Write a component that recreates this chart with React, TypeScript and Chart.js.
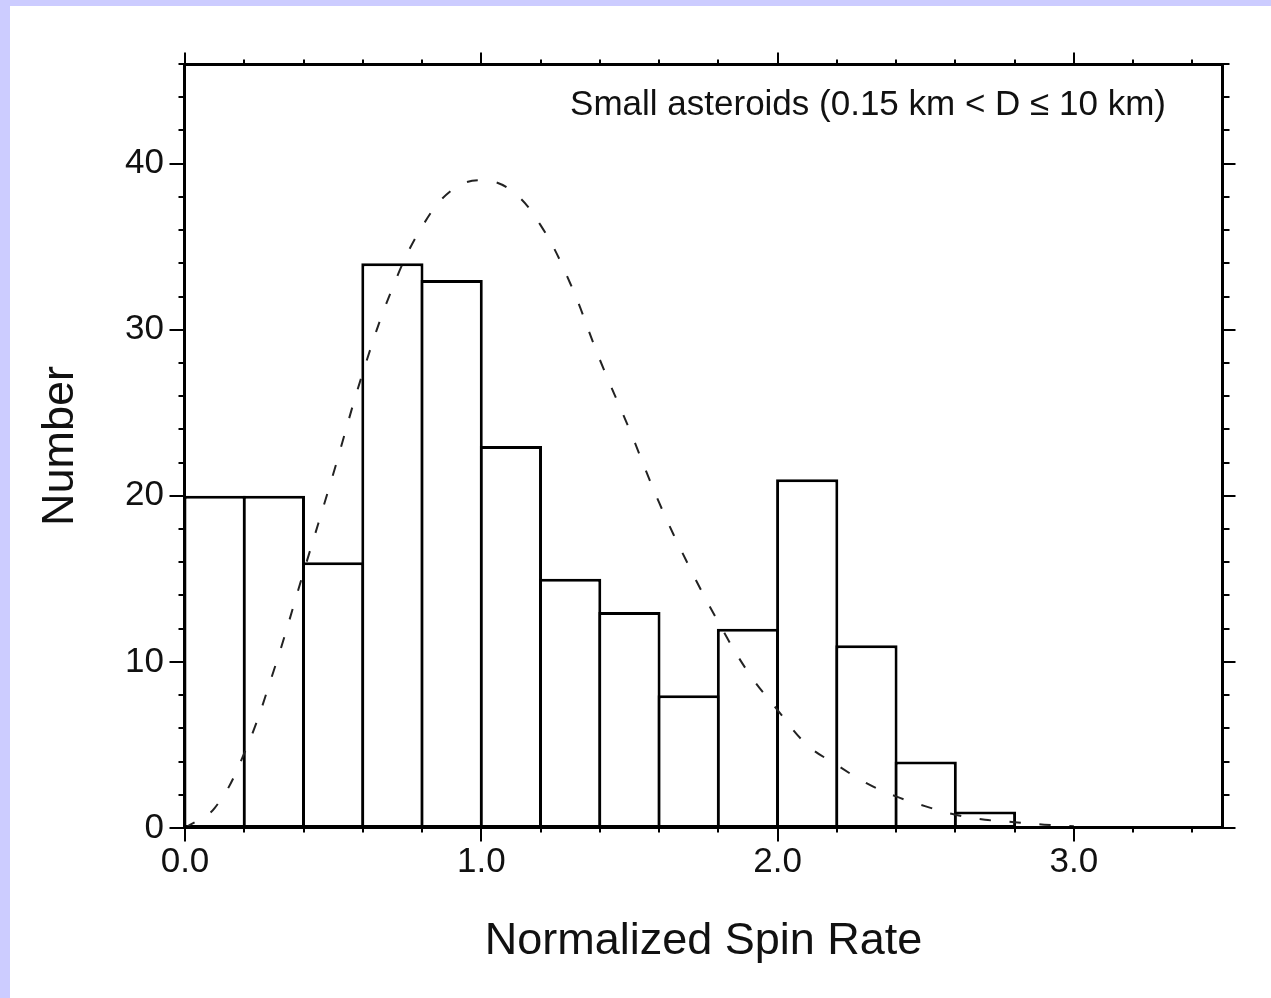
import React, { useEffect, useRef } from 'react';
import { Chart, registerables } from 'chart.js';

Chart.register(...registerables);

// ---- data ----
const BIN_CENTERS = [0.1, 0.3, 0.5, 0.7, 0.9, 1.1, 1.3, 1.5, 1.7, 1.9, 2.1, 2.3, 2.5, 2.7];
const BIN_COUNTS = [20, 20, 16, 34, 33, 23, 15, 13, 8, 12, 21, 11, 4, 1];

const CURVE_X = [0, 0.1, 0.2, 0.3, 0.4, 0.5, 0.6, 0.7, 0.8, 0.9, 1.0, 1.1, 1.2, 1.3, 1.4, 1.5, 1.6, 1.7, 1.8, 1.9, 2.0, 2.1, 2.2, 2.3, 2.4, 2.5, 2.6, 2.7, 2.8, 2.9, 3.0];
const CURVE_Y = [0, 1.2, 4.5, 9.5, 15.4, 21.3, 27.4, 32.5, 36.2, 38.4, 39.0, 38.4, 36.3, 32.8, 28.2, 24.0, 19.6, 15.8, 12.4, 9.4, 7.1, 5.0, 3.8, 2.7, 1.9, 1.3, 0.8, 0.5, 0.35, 0.2, 0.1];

const X_MAJOR = [0, 1, 2, 3];
const X_MINOR = [0, 0.2, 0.4, 0.6, 0.8, 1.0, 1.2, 1.4, 1.6, 1.8, 2.0, 2.2, 2.4, 2.6, 2.8, 3.0, 3.2, 3.4];
const Y_MAJOR = [0, 10, 20, 30, 40];
const Y_MINOR = [0, 2, 4, 6, 8, 10, 12, 14, 16, 18, 20, 22, 24, 26, 28, 30, 32, 34, 36, 38, 40, 42, 44, 46];

const X_TITLE = 'Normalized Spin Rate';
const Y_TITLE = 'Number';
const ANNOTATION = 'Small asteroids (0.15 km < D \u2264 10 km)';

const FONT = '"Liberation Sans", Arial, Helvetica, sans-serif';

const frameTicks = {
  id: 'frameTicks',
  afterDatasetsDraw(chart: any) {
    const { ctx, chartArea: a, scales } = chart;
    const x = scales.x;
    const y = scales.y;
    const L = a.left - 0.5;
    const R = a.right + 0.5;
    const T = a.top + 0.5;
    const B = a.bottom - 0.5;
    const MAJ = 13;
    const MIN = 5;
    ctx.save();
    ctx.strokeStyle = '#000';
    ctx.lineCap = 'butt';
    ctx.lineWidth = 2;
    ctx.beginPath();
    X_MINOR.forEach((v) => {
      const px = Math.round(x.getPixelForValue(v));
      const major = X_MAJOR.some((m) => Math.abs(m - v) < 1e-6);
      ctx.moveTo(px, B);
      ctx.lineTo(px, B + (major ? MAJ + 1 : MIN));
      ctx.moveTo(px, T);
      ctx.lineTo(px, T - (major ? MAJ - 1 : MIN));
    });
    Y_MINOR.forEach((v) => {
      const py = Math.round(y.getPixelForValue(v));
      const major = Y_MAJOR.includes(v);
      ctx.moveTo(L, py);
      ctx.lineTo(L - (major ? MAJ + 2 : MIN + 1), py);
      ctx.moveTo(R, py);
      ctx.lineTo(R + (major ? MAJ : MIN + 2), py);
    });
    ctx.stroke();
    ctx.lineWidth = 3;
    ctx.strokeRect(L, T, R - L, B - T);
    ctx.restore();
  },
};

const annotation = {
  id: 'annotation',
  afterDraw(chart: any) {
    const { ctx, chartArea: a } = chart;
    ctx.save();
    ctx.font = `35px ${FONT}`;
    ctx.fillStyle = '#111';
    ctx.textAlign = 'right';
    ctx.textBaseline = 'alphabetic';
    ctx.fillText(ANNOTATION, a.right - 56, a.top + 51);
    ctx.restore();
  },
};

export default function App() {
  const ref = useRef<HTMLCanvasElement | null>(null);

  useEffect(() => {
    if (!ref.current) return;
    const chart = new Chart(ref.current, {
      type: 'bar',
      data: {
        datasets: [
          {
            type: 'line',
            data: CURVE_X.map((xv, i) => ({ x: xv, y: CURVE_Y[i] })),
            borderColor: '#222',
            borderWidth: 2,
            borderDash: [11, 19],
            pointRadius: 0,
            tension: 0.4,
            fill: false,
            order: 0,
          } as any,
          {
            type: 'bar',
            data: BIN_CENTERS.map((xv, i) => ({ x: xv, y: BIN_COUNTS[i] })),
            backgroundColor: '#fff',
            borderColor: '#000',
            borderWidth: 3,
            borderSkipped: false,
            barPercentage: 1.05,
            categoryPercentage: 1,
            order: 1,
          } as any,
        ],
      },
      options: {
        responsive: false,
        animation: false,
        layout: { padding: { left: 0, top: 64, right: 49, bottom: 0 } },
        plugins: { legend: { display: false }, tooltip: { enabled: false } },
        scales: {
          x: {
            type: 'linear',
            min: 0,
            max: 3.5,
            offset: false,
            grid: { display: false, drawTicks: false },
            border: { display: false },
            afterBuildTicks: (s: any) => {
              s.ticks = X_MAJOR.map((v) => ({ value: v }));
            },
            afterFit: (s: any) => {
              s.height = 170;
            },
            ticks: {
              autoSkip: false,
              maxRotation: 0,
              padding: 13,
              color: '#111',
              font: { family: FONT, size: 35 },
              callback: (v: any) => Number(v).toFixed(1),
            },
            title: {
              display: true,
              text: X_TITLE,
              color: '#111',
              font: { family: FONT, size: 45 },
              padding: { top: 0, bottom: 29 },
            },
          },
          y: {
            type: 'linear',
            min: 0,
            max: 46,
            grid: { display: false, drawTicks: false },
            border: { display: false },
            afterBuildTicks: (s: any) => {
              s.ticks = Y_MAJOR.map((v) => ({ value: v }));
            },
            afterFit: (s: any) => {
              s.width = 185;
            },
            ticks: {
              autoSkip: false,
              padding: 21,
              color: '#111',
              font: { family: FONT, size: 35 },
              callback: (v: any) => String(v),
            },
            title: {
              display: true,
              text: Y_TITLE,
              color: '#111',
              font: { family: FONT, size: 45 },
              padding: { top: 34, bottom: 0 },
            },
          },
        },
      } as any,
      plugins: [frameTicks, annotation],
    });
    return () => chart.destroy();
  }, []);

  return (
    <div style={{ position: 'absolute', left: 0, top: 0, width: 1271, height: 998, background: '#ccccff' }}>
      <div style={{ position: 'absolute', left: 10, top: 6, right: 0, bottom: 0, background: '#ffffff' }} />
      <canvas ref={ref} width={1271} height={998} style={{ position: 'absolute', left: 0, top: 0, width: 1271, height: 998 }} />
    </div>
  );
}
